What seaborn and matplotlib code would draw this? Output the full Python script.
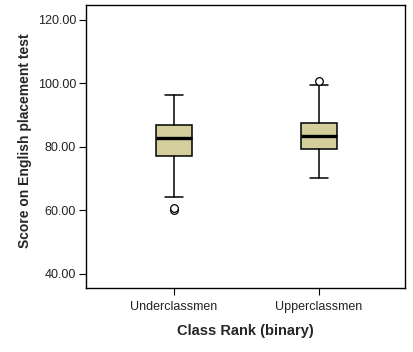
import matplotlib
matplotlib.use("Agg")
import matplotlib.pyplot as plt
import seaborn as sns
import numpy as np

# box statistics
groups = ['Underclassmen', 'Upperclassmen']
whisker_low = [64.1, 70.3]
q1 = [77.1, 79.2]
median = [82.8, 83.5]
q3 = [87.0, 87.4]
whisker_high = [96.3, 99.5]
outliers = [[60.0, 60.8], [100.7]]

y_ticks = [40, 60, 80, 100, 120]

sns.set_theme(style="white")
plt.rcParams['font.family'] = ['Liberation Sans', 'DejaVu Sans']

fig = plt.figure(figsize=(4.13, 3.52), dpi=100)
ax = fig.add_axes([0.208, 0.182, 0.772, 0.804])

stats = []
for i, g in enumerate(groups):
    stats.append({'label': g, 'whislo': whisker_low[i], 'q1': q1[i], 'med': median[i],
                  'q3': q3[i], 'whishi': whisker_high[i], 'fliers': outliers[i]})

ax.bxp(stats, positions=[0, 1], widths=0.25, patch_artist=True,
       boxprops=dict(facecolor='#D3CE9B', edgecolor='black', linewidth=1.1),
       medianprops=dict(color='black', linewidth=2.4),
       whiskerprops=dict(color='black', linewidth=1.1),
       capprops=dict(color='black', linewidth=1.1),
       capwidths=0.125,
       flierprops=dict(marker='o', markerfacecolor='white', markeredgecolor='black',
                       markersize=5.5, markeredgewidth=0.9))

ax.set_xlim(-0.607, 1.593)
ax.set_ylim(35.6, 124.7)
ax.set_yticks(y_ticks)
ax.set_yticklabels([f'{v:.2f}' for v in y_ticks])
ax.set_xticks([0, 1])
ax.set_xticklabels(groups)
ax.tick_params(axis='both', direction='out', length=5, width=0.8, color='black',
               labelsize=9, labelcolor='#222222', left=True, bottom=True)
ax.tick_params(axis='y', pad=2)
ax.tick_params(axis='x', pad=4.5)
for s in ax.spines.values():
    s.set_color('black')
    s.set_linewidth(1.0)

ax.set_ylabel('Score on English placement test', fontsize=10, fontweight='bold', labelpad=4.5)
ax.yaxis.label.set_y(0.52)
ax.set_xlabel('Class Rank (binary)', fontsize=10.5, fontweight='bold', labelpad=8)

fig.savefig('out.png', dpi=100)
